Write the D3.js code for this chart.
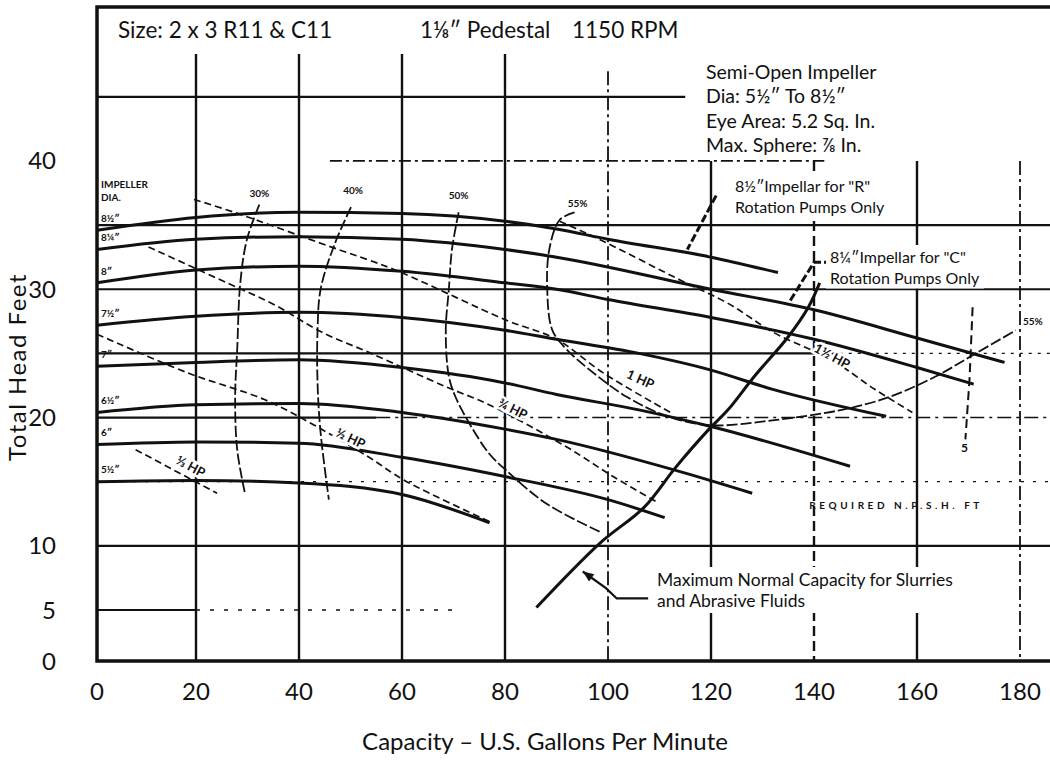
<!DOCTYPE html>
<html>
<head>
<meta charset="utf-8">
<script src="https://cdn.jsdelivr.net/npm/d3@7.9.0/dist/d3.min.js"></script>
<style>
  body { margin: 0; background: #fff; }
  text { font-family: Lato, "Open Sans", sans-serif; fill: #111; }
</style>
</head>
<body>
<svg id="chart" width="1050" height="761"></svg>
<script>
// axis ticks
const capacityTicks = [0, 20, 40, 60, 80, 100, 120, 140, 160, 180];
const headTicks = [0, 5, 10, 20, 30, 40];

// head-capacity curves for each impeller diameter, [gpm, feet]
const imp8_50 = [[0,34.6],[20,35.6],[40,36.0],[60,35.9],[80,35.3],[90,34.7],[100,33.9],[120,32.5],[133,31.3]];
const imp8_25 = [[0,33.1],[20,33.9],[40,34.1],[60,33.9],[80,33.1],[90,32.5],[120,30.0],[140,28.4],[160,26.2],[177,24.3]];
const imp8_00 = [[0,30.5],[20,31.5],[40,31.8],[60,31.4],[80,30.5],[90,30.0],[100,29.2],[120,27.8],[140,26.1],[160,23.9],[171,22.6]];
const imp7_50 = [[0,27.2],[20,27.9],[40,28.2],[60,27.8],[80,26.8],[90,26.1],[106,25.0],[120,23.7],[132,22.2],[154,20.1]];
const imp7_00 = [[0,24.0],[20,24.3],[40,24.5],[60,23.9],[80,22.7],[90,21.8],[106,20.6],[120,19.3],[147,16.2]];
const imp6_50 = [[0,20.4],[20,21.0],[40,21.1],[60,20.4],[80,19.1],[90,18.3],[113,15.9],[128,14.1]];
const imp6_00 = [[0,17.9],[20,18.1],[40,18.0],[60,16.9],[80,15.4],[100,13.6],[111,12.2]];
const imp5_50 = [[0,15.0],[20,15.1],[40,14.9],[60,14.0],[77,11.8]];
const impellerDia = ['8½″', '8¼″', '8″', '7½″', '7″', '6½″', '6″', '5½″'];

// efficiency curves
const eff30 = [[32.3,36.6],[29.9,33.9],[28.6,30.5],[28.0,25.3],[27.6,21.6],[28.0,17.5],[29.5,14.1]];
const eff40 = [[50.1,36.4],[47.0,33.6],[44.2,30.0],[43.6,26.8],[43.6,22.7],[44.2,18.8],[45.8,13.6]];
const eff50 = [[71.0,36.0],[69.7,33.1],[69.1,30.0],[68.5,26.8],[69.1,23.2],[70.4,21.6],[73.0,19.6],[76.9,17.2],[80.2,15.9],[88.0,13.3],[98.4,11.1]];
const eff55 = [[93.5,36.0],[90.6,35.4],[88.6,33.1],[88.2,30.0],[89.2,26.8],[92.0,25.3],[96.5,23.7],[103.7,21.6],[111.5,20.1],[119.9,19.4],
               [132.3,19.8],[145.4,20.6],[154.6,21.6],[163.6,23.2],[171.4,25.0],[179.2,26.8]];
const effLabels = ['30%', '40%', '50%', '55%', '55%'];
const effLabelAt = [[32.3,37.4],[50.5,37.6],[71.0,37.2],[94.1,36.6],[182.5,27.4]];

// horsepower lines
const hp1_3 = [[7.8,17.5],[24.1,14.1]];
const hp1_2 = [[0,26.5],[18.2,23.5],[33.3,21.4],[43.0,19.4],[53.6,16.9],[60.5,15.1],[77.5,11.8]];
const hp3_4 = [[10.4,33.3],[26.0,30.5],[35.2,28.8],[44.2,26.7],[54.0,25.0],[68.5,22.4],[76.9,21.0],[92.0,17.7],[101.0,15.4],[109.6,13.4]];
const hp1_0 = [[19.6,37.0],[27.4,36.0],[46.2,33.3],[53.4,32.3],[59.9,31.3],[80.2,27.6],[90.0,26.1],[99.0,23.5],[112.1,20.4]];
const hp1_5 = [[90.6,35.3],[94.5,34.6],[99.8,33.6],[114.1,30.7],[123.3,28.9],[132.3,26.6],[143.4,24.5],[151.8,22.2],[159.1,20.4]];
const hpLabels = ['⅓ HP', '½ HP', '¾ HP', '1 HP', '1½ HP'];
const hpLabelAt = [[18.8,16.1],[49.9,18.3],[81.4,20.6],[106.2,22.9],[143.4,24.7]];

// NPSH required line and label
const npsh5 = [[170.8,28.6],[170.2,23.0],[169.4,18.3]];
// maximum normal capacity for slurries
const maxCapacity = [[86.1,5.2],[98.4,10.2],[107.0,13.0],[113.1,16.1],[119.4,19.0],[123.3,20.6],[128.4,23.2],[135.0,26.3],[138.9,28.6],[141.1,30.5]];

// leaders from the notes to the curves
const leaderR = [[121.0,37.3],[115.4,33.1]];
const leaderC = [[143.5,32.1],[140.0,32.1],[135.2,29.0]];
const leaderMax = [[107.8,5.9],[101.7,5.9],[99.6,6.7],[95.1,8.0]];

const svg = d3.select('#chart');
const x = d3.scaleLinear().domain([0, 20, 180]).range([97, 196, 1020]);
const y = d3.scaleLinear().domain([0, 5, 52]).range([661, 610, 7]);
const xEnd = 1050;

// ---- grid ----
const grid = svg.append('g').attr('stroke', '#111').attr('fill', 'none');
const vGrid = [
  {v: 20, top: 48.5}, {v: 40, top: 48.5}, {v: 60, top: 49.5}, {v: 80, top: 49.5},
  {v: 100, top: 47, dash: '14,4,3,4', w: 1.8}, {v: 120, top: 40}, {v: 140, top: 40, dash: '10,5'},
  {v: 160, top: 40}, {v: 180, top: 40, dash: '14,4,3,4', w: 1.8}
];
grid.selectAll('line.v').data(vGrid).enter().append('line')
  .attr('x1', d => x(d.v)).attr('x2', d => x(d.v))
  .attr('y1', d => y(d.top)).attr('y2', y(0))
  .attr('stroke-width', d => d.w || 2.4)
  .attr('stroke-dasharray', d => d.dash || null);

const hGrid = [
  {v: 45, from: 0, to: 115},
  {v: 40, from: 46, to: 142, dash: '12,4,3,4', w: 1.8},
  {v: 35, from: 0, to: 186},
  {v: 30, from: 0, to: 186},
  {v: 25, from: 0, to: 145},
  {v: 25, from: 145, to: 186, dash: '3,6', w: 1.2},
  {v: 20, from: 0, to: 55},
  {v: 20, from: 55, to: 186, dash: '14,5,3,5', w: 1.6},
  {v: 15, from: 0, to: 186, dash: '3,9', w: 1.2},
  {v: 10, from: 0, to: 186},
  {v: 5, from: 0, to: 20},
  {v: 5, from: 20, to: 70, dash: '4,10', w: 1.6}
];
grid.selectAll('line.h').data(hGrid).enter().append('line')
  .attr('x1', d => x(d.from)).attr('x2', d => Math.min(x(d.to), xEnd))
  .attr('y1', d => y(d.v)).attr('y2', d => y(d.v))
  .attr('stroke-width', d => d.w || 2.2)
  .attr('stroke-dasharray', d => d.dash || null);

// frame
svg.append('path')
  .attr('d', `M${xEnd},${y(52)}H${x(0)}V${y(0)}H${xEnd}`)
  .attr('fill', 'none').attr('stroke', '#111').attr('stroke-width', 3.5);

const lineSmooth = d3.line().x(d => x(d[0])).y(d => y(d[1])).curve(d3.curveMonotoneX);
const lineFree = d3.line().x(d => x(d[0])).y(d => y(d[1])).curve(d3.curveCatmullRom.alpha(0.5));
const lineStraight = d3.line().x(d => x(d[0])).y(d => y(d[1]));

// ---- head curves ----
const impellerCurves = [imp8_50, imp8_25, imp8_00, imp7_50, imp7_00, imp6_50, imp6_00, imp5_50];
svg.append('g').selectAll('path').data(impellerCurves).enter().append('path')
  .attr('d', lineSmooth).attr('fill', 'none').attr('stroke', '#111').attr('stroke-width', 3);

// ---- efficiency curves ----
svg.append('g').selectAll('path').data([eff30, eff40, eff50, eff55]).enter().append('path')
  .attr('d', lineFree).attr('fill', 'none').attr('stroke', '#111')
  .attr('stroke-width', 1.8).attr('stroke-dasharray', '11,3');

// ---- horsepower lines ----
const hpLines = [hp1_3, hp1_2, hp3_4, hp1_0, hp1_5];
svg.append('g').selectAll('path').data(hpLines).enter().append('path')
  .attr('d', lineFree).attr('fill', 'none').attr('stroke', '#111')
  .attr('stroke-width', 1.7).attr('stroke-dasharray', '7,4');

// NPSH
svg.append('path').attr('d', lineStraight(npsh5)).attr('fill', 'none').attr('stroke', '#111')
  .attr('stroke-width', 2).attr('stroke-dasharray', '9,5');

// maximum normal capacity line
svg.append('path').attr('d', lineFree(maxCapacity)).attr('fill', 'none')
  .attr('stroke', '#111').attr('stroke-width', 3);

// ---- small scanned labels ----
const small = svg.append('g').style('font-family', '"DejaVu Sans", sans-serif')
  .style('font-size', '10px').style('font-weight', 'bold');
small.append('text').attr('x', x(0) + 4).attr('y', y(37.9)).text('IMPELLER');
small.append('text').attr('x', x(0) + 4).attr('y', y(36.9)).text('DIA.');
small.selectAll('text.dia').data(impellerCurves).enter().append('text')
  .attr('x', x(0) + 4).attr('y', d => y(d[0][1] + 0.65))
  .text((d, i) => impellerDia[i]);
small.selectAll('text.eff').data(effLabels).enter().append('text')
  .attr('x', (d, i) => x(effLabelAt[i][0])).attr('y', (d, i) => y(effLabelAt[i][1]))
  .attr('text-anchor', 'middle').attr('dominant-baseline', 'middle').text(d => d);

small.selectAll('text.hp').data(hpLabels).enter().append('text')
  .attr('transform', (d, i) => {
    const p = hpLines[i], a = p[0], b = p[p.length - 1];
    const ang = Math.atan2(y(b[1]) - y(a[1]), x(b[0]) - x(a[0])) * 180 / Math.PI;
    return `translate(${x(hpLabelAt[i][0])},${y(hpLabelAt[i][1])}) rotate(${ang})`;
  })
  .attr('text-anchor', 'middle').attr('dominant-baseline', 'middle')
  .style('font-size', '13px')
  .attr('stroke', '#fff').attr('stroke-width', 5).attr('paint-order', 'stroke')
  .text(d => d);

small.append('text').attr('x', x(169.2)).attr('y', y(17.3))
  .attr('text-anchor', 'middle').style('font-size', '12px').text('5');
small.append('text').attr('x', x(139.1)).attr('y', y(12.9))
  .attr('textLength', 170).attr('lengthAdjust', 'spacing')
  .style('font-size', '10px').text('REQUIRED N.P.S.H. FT');

// ---- leaders ----
const leaders = svg.append('g').attr('fill', 'none').attr('stroke', '#111');
leaders.append('path').attr('d', lineStraight(leaderR)).attr('stroke-width', 3).attr('stroke-dasharray', '8,3');
leaders.append('path').attr('d', lineStraight(leaderC)).attr('stroke-width', 3).attr('stroke-dasharray', '8,3');
leaders.append('path').attr('d', lineStraight(leaderMax)).attr('stroke-width', 2.2);
const tip = leaderMax[leaderMax.length - 1], pre = leaderMax[leaderMax.length - 2];
const tAng = Math.atan2(y(tip[1]) - y(pre[1]), x(tip[0]) - x(pre[0])) * 180 / Math.PI;
svg.append('path').attr('d', 'M0,0L-11,-4.5L-11,4.5Z').attr('fill', '#111')
  .attr('transform', `translate(${x(tip[0])},${y(tip[1])}) rotate(${tAng})`);

// ---- text boxes ----
function note(lines, px, py, size, gap, pad) {
  const g = svg.append('g');
  const rect = g.append('rect').attr('fill', '#fff');
  const t = g.append('text').style('font-size', size + 'px');
  lines.forEach((l, i) => t.append('tspan').attr('x', px).attr('y', py + i * gap).text(l));
  const bb = t.node().getBBox();
  rect.attr('x', bb.x - pad).attr('y', bb.y - pad / 2).attr('width', bb.width + 2 * pad).attr('height', bb.height + pad);
}
svg.append('rect').attr('x', x(0) + 3).attr('y', y(52) + 3).attr('width', xEnd - x(0) - 3).attr('height', 44).attr('fill', '#fff');
const head = svg.append('text').attr('y', 38).style('font-size', '22.5px');
head.append('tspan').attr('x', 118).text('Size: 2 x 3 R11 & C11');
head.append('tspan').attr('x', 420).text('1⅛″ Pedestal');
head.append('tspan').attr('x', 572).text('1150 RPM');

note(['Semi-Open Impeller', 'Dia: 5½″ To 8½″', 'Eye Area:  5.2 Sq. In.', 'Max. Sphere: ⅞ In.'], 706, 79, 19.5, 24.3, 6);
note(['8½″Impellar for "R"', 'Rotation Pumps Only'], 735, 192, 16, 20.5, 4);
note(['8¼″Impellar for "C"', 'Rotation Pumps Only'], 830, 263, 16, 20.5, 4);
note(['Maximum Normal Capacity for Slurries', 'and Abrasive Fluids'], 657, 586, 17.5, 21, 4);

// ---- axes labels ----
svg.append('g').selectAll('text').data(capacityTicks).enter().append('text')
  .attr('x', d => x(d)).attr('y', 700).attr('text-anchor', 'middle')
  .style('font-size', '24px').text(d => d);
svg.append('g').selectAll('text').data(headTicks).enter().append('text')
  .attr('x', 56).attr('y', d => y(d) + 8.5).attr('text-anchor', 'end')
  .style('font-size', '24px').text(d => d);
svg.append('text').attr('x', 545).attr('y', 750).attr('text-anchor', 'middle')
  .style('font-size', '24px').text('Capacity – U.S. Gallons Per Minute');
svg.append('text').attr('transform', 'translate(26,367) rotate(-90)').attr('text-anchor', 'middle')
  .style('font-size', '24px').style('letter-spacing', '1.5px').text('Total Head Feet');
</script>
</body>
</html>
